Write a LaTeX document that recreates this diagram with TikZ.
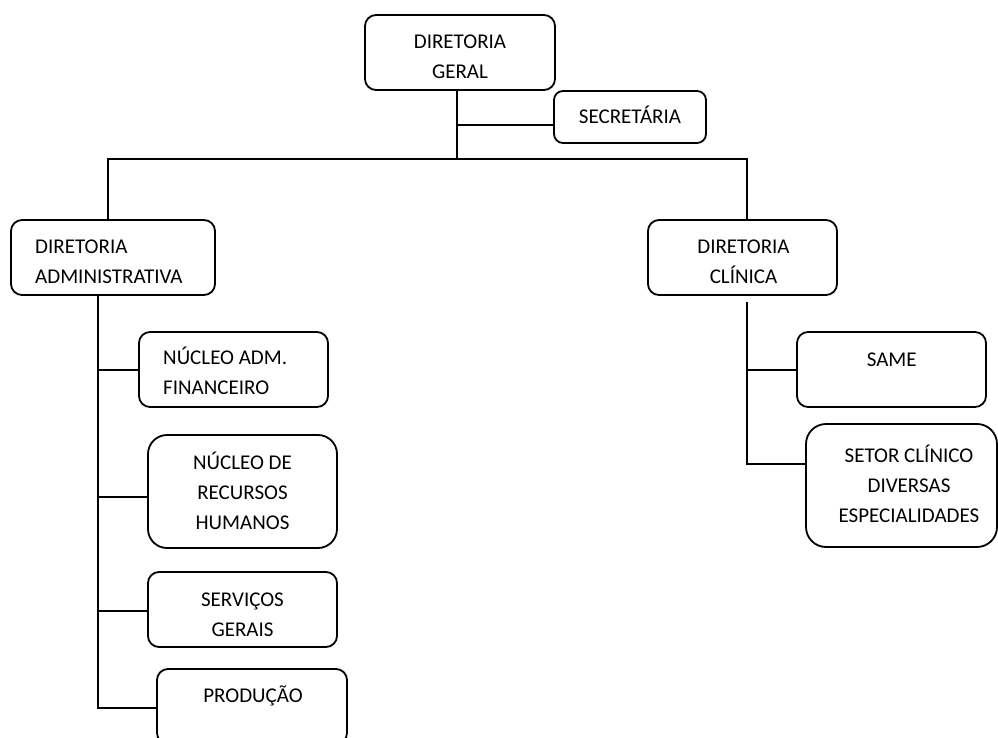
\documentclass[tikz,border=0pt]{standalone}
\usepackage{fontspec}
\setmainfont{Carlito}
\newcommand\st{\rule[-0.25em]{0pt}{1.132em}}
\begin{document}
\begin{tikzpicture}[x=1pt,y=-1pt,
  bx/.style={draw=black, line width=1.8pt, inner sep=0pt, fill=white},
  txt/.style={inner sep=0pt, font=\fontsize{21}{30}\selectfont, text=black},
  conn/.style={draw=black, line width=1.8pt, line join=miter}]
\clip (0,0) rectangle (998,738);
\fill[white] (0,0) rectangle (998,738);

% boxes
\node[bx, minimum width=190pt, minimum height=75pt, rounded corners=11pt] (ger) at (460,52.5) {};
\node[bx, minimum width=152pt, minimum height=52pt, rounded corners=9pt] (sec) at (630,117) {};
\node[bx, minimum width=204pt, minimum height=75pt, rounded corners=11pt] (adm) at (113,257.5) {};
\node[bx, minimum width=189pt, minimum height=75pt, rounded corners=11pt] (cli) at (742.5,257.5) {};
\node[bx, minimum width=189pt, minimum height=75pt, rounded corners=11pt] (nf) at (233.5,369.5) {};
\node[bx, minimum width=189pt, minimum height=113pt, rounded corners=19pt] (rh) at (242.5,491.5) {};
\node[bx, minimum width=189pt, minimum height=75pt, rounded corners=11pt] (sg) at (242.5,609.5) {};
\node[bx, minimum width=190pt, minimum height=75pt, rounded corners=11pt] (pr) at (252,706.5) {};
\node[bx, minimum width=189pt, minimum height=75pt, rounded corners=11pt] (same) at (891.5,369.5) {};
\node[bx, minimum width=191pt, minimum height=123pt, rounded corners=20pt] (set) at (901.5,485.5) {};

% texts
\node[txt, align=center] (ger-t) at (460,56.7) {\st DIRETORIA\\\st GERAL};
\node[txt, align=center] (sec-t) at (630,116.7) {\st SECRETÁRIA};
\node[txt, align=left, anchor=west] (adm-t) at (35,261.7) {\st DIRETORIA\\\st ADMINISTRATIVA};
\node[txt, align=center] (cli-t) at (743.5,261.7) {\st DIRETORIA\\\st CLÍNICA};
\node[txt, align=left, anchor=west] (nf-t) at (163,373.3) {\st NÚCLEO ADM.\\\st FINANCEIRO};
\node[txt, align=center] (rh-t) at (242.5,493.3) {\st NÚCLEO DE\\\st RECURSOS\\\st HUMANOS};
\node[txt, align=center] (sg-t) at (242.5,614.7) {\st SERVIÇOS\\\st GERAIS};
\node[txt, align=center] (pr-t) at (253,696) {\st PRODUÇÃO};
\node[txt, align=center] (same-t) at (891.7,359.7) {\st SAME};
\node[txt, align=center] (set-t) at (909,486.3) {\st SETOR CLÍNICO\\\st DIVERSAS\\\st ESPECIALIDADES};

% connector points
\coordinate (g1) at (457,125);
\coordinate (g2) at (457,159);
\coordinate (busL) at (108,159);
\coordinate (busR) at (747,159);
\coordinate (l1) at (98,370);
\coordinate (l2) at (98,497);
\coordinate (l3) at (98,611);
\coordinate (l4) at (98,708);
\coordinate (r0) at (747,302);
\coordinate (r1) at (747,370);
\coordinate (r2) at (747,464);

% connectors
\draw[conn] (ger.south -| g2) -- (g2);
\draw[conn] (g1) -- (g1 -| sec.west);
\draw[conn] (busL |- adm.north) -- (busL) -- (busR) -- (busR |- cli.north);
\draw[conn] (l1 |- adm.south) -- (l4) -- (l4 -| pr.west);
\draw[conn] (l1) -- (l1 -| nf.west);
\draw[conn] (l2) -- (l2 -| rh.west);
\draw[conn] (l3) -- (l3 -| sg.west);
\draw[conn] (r0) -- (r2) -- (r2 -| set.west);
\draw[conn] (r1) -- (r1 -| same.west);
\end{tikzpicture}
\end{document}
